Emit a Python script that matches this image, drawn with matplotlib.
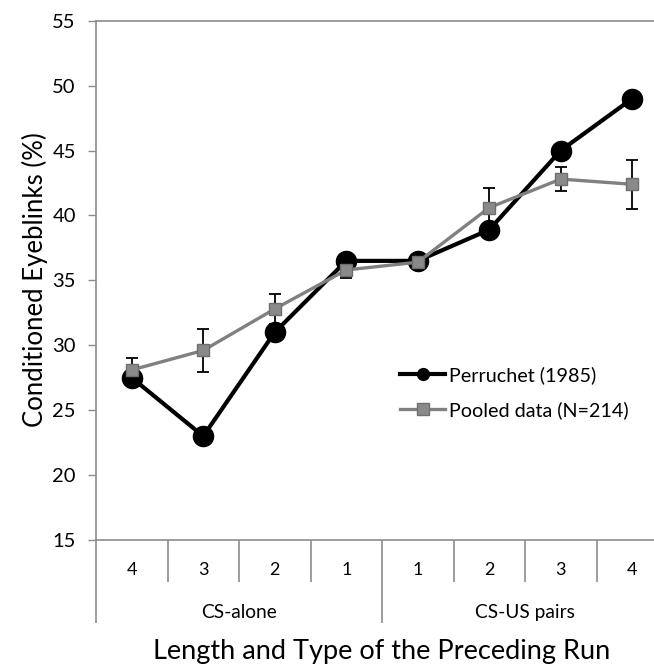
import numpy as np
import matplotlib as mpl
import matplotlib.pyplot as plt

mpl.rcParams["font.family"] = ["Lato", "DejaVu Sans"]

# run length labels, grouped by type of the preceding run
run_labels = ["4", "3", "2", "1", "1", "2", "3", "4"]
groups = ["CS-alone", "CS-US pairs"]

perruchet = [27.5, 23.0, 31.0, 36.5, 36.5, 38.9, 45.0, 49.0]
pooled = [28.1, 29.6, 32.8, 35.8, 36.4, 40.6, 42.8, 42.4]
pooled_err = [0.9, 1.65, 1.15, 0.65, 0.3, 1.5, 0.95, 1.9]

x = np.arange(1, len(run_labels) + 1)
axis_grey = "#8c8c8c"

fig = plt.figure(figsize=(6.54, 6.69), dpi=100)
ax = fig.add_axes([96 / 654, 129 / 669, 572 / 654, 519.3 / 669])

ax.plot(x, perruchet, color="black", lw=3, marker="o", ms=14.5,
        mfc="black", mec="black", label="Perruchet (1985)", zorder=3)
ax.errorbar(x, pooled, yerr=pooled_err, fmt="none", ecolor="black",
            elinewidth=1.3, capsize=4, capthick=1.3, zorder=4)
ax.plot(x, pooled, color="#808080", lw=2.4, marker="s", ms=8,
        mfc="#8a8a8a", mec="#6e6e6e", mew=1, label="Pooled data (N=214)",
        zorder=5)

ax.set_xlim(0.5, 8.5)
ax.set_ylim(15, 55)
ax.set_yticks(np.arange(15, 56, 5))
ax.tick_params(axis="y", direction="out", length=5.5, width=1,
               color=axis_grey, labelsize=14.5, pad=9)
ax.set_xticks(x)
ax.set_xticklabels(run_labels)
ax.tick_params(axis="x", length=0, labelsize=13, pad=16)

for side in ["left", "bottom", "top"]:
    ax.spines[side].set_color(axis_grey)
    ax.spines[side].set_linewidth(1.2)
ax.spines["right"].set_visible(False)

# category dividers of the two-level axis
trans = ax.get_xaxis_transform()
inner = [b for b in np.arange(1.5, 8.5, 1.0) if b != 4.5]
ax.vlines(inner, -0.081, 0, transform=trans, color=axis_grey, lw=1.2,
          clip_on=False)
ax.vlines([0.5, 4.5], -0.16, 0, transform=trans, color=axis_grey, lw=1.2,
          clip_on=False)
for gx, name in zip([2.5, 6.5], groups):
    ax.text(gx, -0.139, name, transform=trans, ha="center", va="center",
            fontsize=13.8)

fig.text(382 / 654, 17 / 669, "Length and Type of the Preceding Run",
         ha="center", va="center", fontsize=19.5)
fig.text(35 / 654, 389 / 669, "Conditioned Eyeblinks (%)", rotation=90,
         ha="center", va="center", fontsize=18.5)

leg = ax.legend(loc="center left", bbox_to_anchor=(400 / 654, 276.5 / 669),
                bbox_transform=fig.transFigure, frameon=False, fontsize=14.2,
                handlelength=2.3, handletextpad=0.2, labelspacing=0.85,
                borderpad=0, borderaxespad=0)
leg.legend_handles[0].set_markersize(8.5)
leg.legend_handles[1].set_markersize(8)

fig.savefig("out.png", dpi=100)
